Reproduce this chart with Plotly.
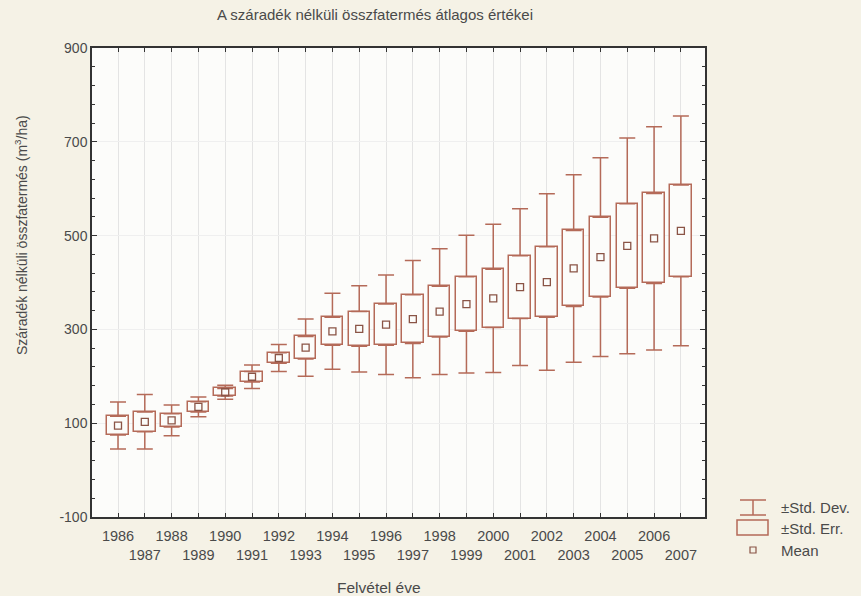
import plotly.graph_objects as go

# Survey years and the per-year statistics of total standing volume without dead wood
years = list(range(1986, 2008))
mean = [95, 103, 106, 135, 166, 199, 239, 261, 296, 301, 310,
        322, 338, 354, 366, 390, 401, 430, 454, 478, 494, 510]
std_err = [20, 21, 14, 11, 8, 11, 11, 24, 30, 37, 44,
           52, 54, 58, 62, 67, 75, 81, 85, 90, 96, 98]
std_dev = [50, 58, 33, 21, 15, 25, 29, 61, 81, 92, 106,
           125, 134, 147, 158, 167, 188, 200, 212, 230, 238, 245]
# even years on the first label row, odd years on the second
tick_text = [str(y) if y % 2 == 0 else "<br>" + str(y) for y in years]
y_ticks = [-100, 100, 300, 500, 700, 900]
y_tick_text = ["-100", "100", "300", "500", "700", "900"]

title_text = "A száradék nélküli összfatermés átlagos értékei"
y_title = "Száradék nélküli összfatermés (m<sup>3</sup>/ha)"
x_title = "Felvétel éve"
legend_labels = ["±Std. Dev.", "±Std. Err.", "Mean"]

LINE = "#b46a58"
MEAN_C = "#8a5446"
TEXT = "#4a4a4a"
FONT = "Liberation Sans, Arial, sans-serif"

W, H = 861, 596
L, R, T, B = 92, 156, 48, 79
PW, PH = W - L - R, H - T - B


def px_x(px):
    return (px - L) / PW


def px_y(py):
    return (H - B - py) / PH


se_low = [m - s for m, s in zip(mean, std_err)]
se_high = [m + s for m, s in zip(mean, std_err)]
whisker = [d - s for d, s in zip(std_dev, std_err)]

fig = go.Figure()

# ±Std. Err. box
fig.add_trace(go.Bar(
    x=years, y=[2 * s for s in std_err], base=se_low, width=0.8,
    marker=dict(color="#fcfcfa", line=dict(color=LINE, width=1.5)),
    showlegend=False, hoverinfo="skip",
))

# ±Std. Dev. whiskers, from the box edges out to the caps
fig.add_trace(go.Scatter(
    x=years, y=se_high, mode="markers", marker=dict(size=1, opacity=0),
    error_y=dict(type="data", symmetric=False, array=whisker,
                 arrayminus=[0] * len(years), color=LINE, thickness=1.5, width=8),
    showlegend=False, hoverinfo="skip",
))
fig.add_trace(go.Scatter(
    x=years, y=se_low, mode="markers", marker=dict(size=1, opacity=0),
    error_y=dict(type="data", symmetric=False, array=[0] * len(years),
                 arrayminus=whisker, color=LINE, thickness=1.5, width=8),
    showlegend=False, hoverinfo="skip",
))

# mean
fig.add_trace(go.Scatter(
    x=years, y=mean, mode="markers",
    marker=dict(symbol="square-open", size=7, color=MEAN_C, line=dict(width=1.3)),
    showlegend=False,
))

# legend keys
shapes = []
x0, x1, xc = px_x(740), px_x(766), px_x(753)
for yy in (500, 515):
    shapes.append(dict(type="line", xref="paper", yref="paper",
                       x0=x0, x1=x1, y0=px_y(yy), y1=px_y(yy),
                       line=dict(color=LINE, width=1.5)))
shapes.append(dict(type="line", xref="paper", yref="paper",
                   x0=xc, x1=xc, y0=px_y(500), y1=px_y(515),
                   line=dict(color=LINE, width=1.5)))
shapes.append(dict(type="rect", xref="paper", yref="paper",
                   x0=px_x(737), x1=px_x(768), y0=px_y(535), y1=px_y(520),
                   line=dict(color=LINE, width=1.5)))
shapes.append(dict(type="rect", xref="paper", yref="paper",
                   x0=px_x(750), x1=px_x(756), y0=px_y(553), y1=px_y(547),
                   line=dict(color=MEAN_C, width=1.2)))

annotations = [
    dict(text=title_text, xref="paper", yref="paper", x=px_x(375), y=px_y(15),
         showarrow=False, font=dict(size=15, color=TEXT, family=FONT),
         xanchor="center", yanchor="middle"),
    dict(text=y_title, xref="paper", yref="paper", x=px_x(21), y=px_y(235),
         showarrow=False, textangle=-90, font=dict(size=14, color=TEXT, family=FONT),
         xanchor="center", yanchor="middle"),
    dict(text=x_title, xref="paper", yref="paper", x=px_x(379), y=px_y(587),
         showarrow=False, font=dict(size=15.5, color=TEXT, family=FONT),
         xanchor="center", yanchor="middle"),
]
for label, yy in zip(legend_labels, (507, 528, 550)):
    annotations.append(dict(text=label, xref="paper", yref="paper",
                            x=px_x(779), y=px_y(yy), showarrow=False,
                            font=dict(size=15, color=TEXT, family=FONT),
                            xanchor="left", yanchor="middle"))

fig.update_layout(
    width=W, height=H,
    margin=dict(l=L, r=R, t=T, b=B),
    paper_bgcolor="#f5f2e6",
    plot_bgcolor="#fcfcfa",
    font=dict(family=FONT, color=TEXT, size=14),
    showlegend=False,
    bargap=0,
    shapes=shapes,
    annotations=annotations,
    xaxis=dict(
        range=[1986 - 0.97, 2007 + 0.9],
        tickmode="array", tickvals=years, ticktext=tick_text, tickangle=0,
        ticks="inside", ticklen=4, tickcolor="#333", ticklabelstandoff=5,
        showline=True, linecolor="#333", linewidth=1.5, mirror="allticks",
        showgrid=True, gridcolor="#e4e4e4", gridwidth=1,
        zeroline=False, tickfont=dict(size=14.5, color=TEXT),
    ),
    yaxis=dict(
        range=[-100, 900],
        tickmode="array", tickvals=y_ticks, ticktext=y_tick_text,
        ticks="inside", ticklen=5, tickcolor="#333",
        showline=True, linecolor="#333", linewidth=1.5, mirror="allticks",
        showgrid=True, gridcolor="#efefef", gridwidth=1,
        zeroline=False, tickfont=dict(size=14, color=TEXT),
        minor=dict(tick0=-100, dtick=40, ticks="inside", ticklen=3,
                   tickcolor="#333", showgrid=False),
    ),
)

fig.write_html("out.html")
